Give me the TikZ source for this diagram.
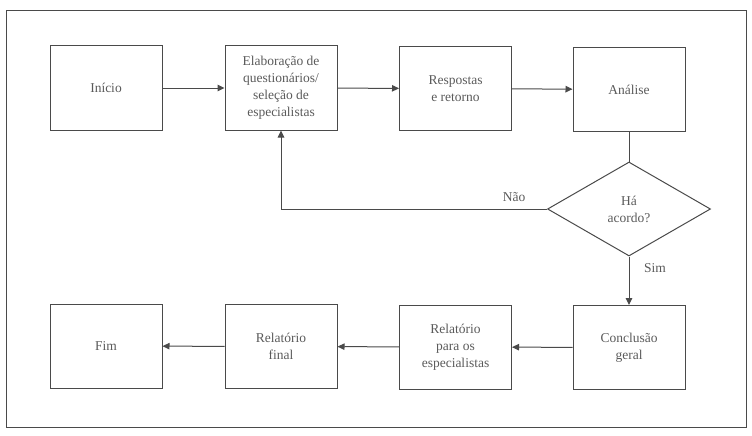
\documentclass[tikz,border=0pt]{standalone}
\usepackage{fontspec}
\setmainfont{Liberation Serif}
\usetikzlibrary{arrows.meta,shapes.geometric}
\definecolor{ink}{HTML}{4A4A4A}
\definecolor{txt}{HTML}{5A5A5A}
\begin{document}
\begin{tikzpicture}[x=1pt,y=-1pt,
  box/.style={draw=ink,line width=1pt,minimum width=112pt,minimum height=84pt,inner sep=2pt,align=center,text=txt,font=\fontsize{13.5}{17}\selectfont},
  dec/.style={draw=ink,line width=1pt,shape=diamond,minimum width=163pt,minimum height=94pt,aspect=1.73,inner sep=0pt,align=center,text=txt,font=\fontsize{13.5}{17}\selectfont},
  conn/.style={draw=ink,line width=1pt},
  arr/.style={conn,-{Triangle[length=7pt,width=6.5pt]}},
  lbl/.style={text=txt,font=\fontsize{13.5}{16}\selectfont}]
\useasboundingbox (0,0) rectangle (752,436);
\draw[draw=ink,line width=1pt] (6,11) rectangle (746,427);
\node[box] (ini) at (106,88) {Início};
\node[box] (ela) at (281,88) {Elaboração de\\questionários/\\seleção de\\especialistas};
\node[box] (res) at (455.5,88.5) {Respostas\\e retorno};
\node[box] (ana) at (629,89.5) {Análise};
\node[dec] (dec) at (629,209) {Há\\acordo?};
\node[box] (con) at (629,347.5) {Conclusão\\geral};
\node[box] (rpe) at (455.5,347) {Relatório\\para os\\especialistas};
\node[box] (rfi) at (281,346.5) {Relatório\\final};
\node[box] (fim) at (106,346) {Fim};
\draw[arr] (ini) -- (ela);
\draw[arr] (ela) -- (res);
\draw[arr] (res) -- (ana);
\draw[conn] (ana.south) -- (dec.north);
\draw[arr] (dec.west) -| (ela.south);
\draw[arr] (dec.south) -- (con.north);
\draw[arr] (con) -- (rpe);
\draw[arr] (rpe) -- (rfi);
\draw[arr] (rfi) -- (fim);
\node[lbl] (nao) at (514,197) {Não};
\node[lbl] (sim) at (655,268) {Sim};
\end{tikzpicture}
\end{document}
